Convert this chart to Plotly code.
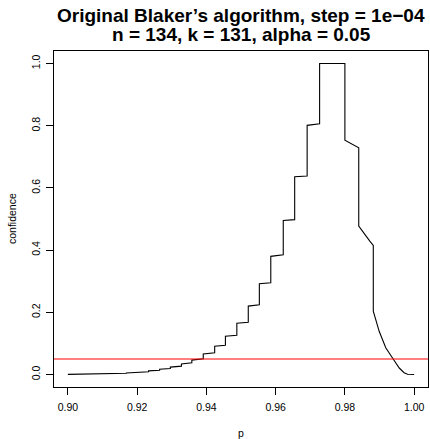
import plotly.graph_objects as go

# Data
p_vals = [0.9000, 0.9050, 0.9100, 0.9140, 0.9169,
          0.9169, 0.9203, 0.9203, 0.9233, 0.9233, 0.9265, 0.9265, 0.9296,
          0.9296, 0.9328, 0.9328, 0.9358, 0.9358, 0.9391, 0.9391, 0.9424,
          0.9424, 0.9455, 0.9455, 0.9488, 0.9488, 0.9521, 0.9521, 0.9553,
          0.9553, 0.9586, 0.9586, 0.9622, 0.9622, 0.9655, 0.9655, 0.9691,
          0.9691, 0.9727, 0.9727, 0.9800,
          0.9800, 0.9820, 0.9840,
          0.9840, 0.9850, 0.9861, 0.9872, 0.9882,
          0.9882, 0.9899, 0.9918, 0.9940, 0.9957, 0.9971, 0.9981, 1.0000]
conf_vals = [0.0006, 0.0010, 0.0018, 0.0030, 0.0042,
             0.0052, 0.0062, 0.0078, 0.0092, 0.0118, 0.0138, 0.0170, 0.0195,
             0.0240, 0.0270, 0.0340, 0.0380, 0.0465, 0.0510, 0.0660, 0.0700,
             0.0910, 0.0940, 0.1230, 0.1260, 0.1650, 0.1680, 0.2200, 0.2240,
             0.2920, 0.2950, 0.3800, 0.3850, 0.4950, 0.4980, 0.6360, 0.6380,
             0.8010, 0.8060, 1.0000, 1.0000,
             0.7530, 0.7420, 0.7290,
             0.4770, 0.4620, 0.4420, 0.4290, 0.4150,
             0.2040, 0.1390, 0.0860, 0.0490, 0.0210, 0.0060, 0.0010, 0.0000]

alpha = 0.05
x_ticks = [0.90, 0.92, 0.94, 0.96, 0.98, 1.00]
x_tick_labels = ["0.90", "0.92", "0.94", "0.96", "0.98", "1.00"]
y_ticks = [0.0, 0.2, 0.4, 0.6, 0.8, 1.0]
y_tick_labels = ["0.0", "0.2", "0.4", "0.6", "0.8", "1.0"]
title_line1 = "Original Blaker\u2019s algorithm, step = 1e\u221204"
title_line2 = "n = 134, k = 131, alpha = 0.05"

FONT = "Liberation Sans, Arial, Helvetica, sans-serif"
W, H = 430, 439
L, R, T, B = 54, 2, 51, 52
PW, PH = W - L - R, H - T - B
TICK_FS = 10.5


def px_x(px):
    return (px - L) / PW


def px_y(py):
    return (H - B - py) / PH


fig = go.Figure()
fig.add_trace(go.Scatter(x=p_vals, y=conf_vals, mode="lines",
                         line=dict(color="black", width=1.1), hoverinfo="skip",
                         showlegend=False))
fig.add_shape(type="line", xref="paper", x0=0, x1=1, yref="y", y0=alpha, y1=alpha,
              line=dict(color="#ff0000", width=1))

cx = 0.5
anns = [
    dict(text="<b>" + title_line1 + "</b>", x=cx, y=px_y(16), font=dict(size=19)),
    dict(text="<b>" + title_line2 + "</b>", x=cx, y=px_y(35), font=dict(size=19)),
    dict(text="p", x=cx, y=px_y(433), font=dict(size=TICK_FS)),
    dict(text="confidence", x=px_x(12), y=0.5, font=dict(size=TICK_FS), textangle=-90),
]
for a in anns:
    a.update(xref="paper", yref="paper", showarrow=False, xanchor="center", yanchor="middle")

fig.update_layout(
    width=W, height=H,
    margin=dict(l=L, r=R, t=T, b=B, autoexpand=False),
    paper_bgcolor="white", plot_bgcolor="white",
    font=dict(family=FONT, size=TICK_FS, color="black"),
    annotations=anns,
    xaxis=dict(range=[0.896, 1.004], tickvals=x_ticks, ticktext=x_tick_labels,
               showgrid=False, zeroline=False, showline=True, mirror=True,
               linecolor="black", linewidth=1, ticks="outside", ticklen=7,
               tickcolor="black", automargin=False, tickfont=dict(size=TICK_FS),
               ticklabelstandoff=3),
    yaxis=dict(range=[-0.04, 1.04], tickvals=y_ticks, ticktext=y_tick_labels,
               showgrid=False, zeroline=False, showline=True, mirror=True,
               linecolor="black", linewidth=1, ticks="outside", ticklen=7,
               tickcolor="black", tickangle=-90, automargin=False,
               tickfont=dict(size=TICK_FS), ticklabelstandoff=2),
)

fig.write_html("out.html", config={"displayModeBar": False},
               post_script="document.body.style.margin='0';document.body.style.padding='0';")
